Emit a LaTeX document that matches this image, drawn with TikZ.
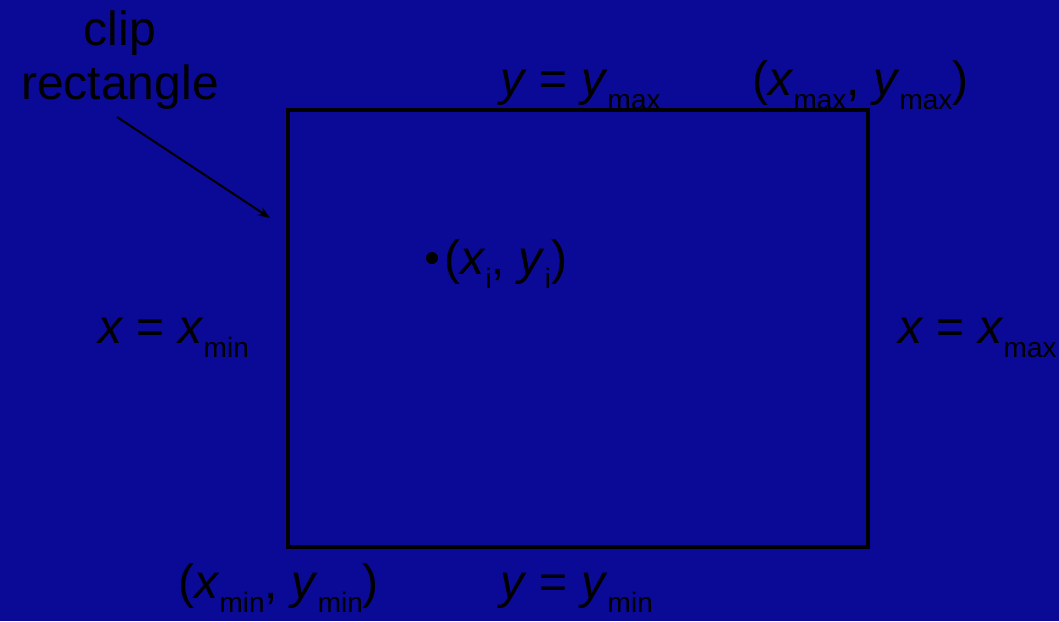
\documentclass[tikz,border=0pt]{standalone}
\usepackage{fontspec}
\setmainfont{Liberation Sans}
\usetikzlibrary{arrows.meta}
\definecolor{bgblue}{RGB}{10,10,150}
\tikzset{
  lbl/.style={text=black, inner sep=0pt, font=\fontsize{48}{54}\selectfont},
  edge/.style={draw=black, line width=4pt},
}
\newcommand{\vv}[1]{\textit{#1}}
\newcommand{\sbs}[1]{\raisebox{-0.3em}{\fontsize{28}{30}\selectfont #1}}
\begin{document}
\begin{tikzpicture}[x=1pt,y=-1pt]
\fill[bgblue] (0,0) rectangle (1059,621);
\useasboundingbox (0,0) rectangle (1059,621);
\node[edge, minimum width=580pt, minimum height=437pt, inner sep=0pt] (clip) at (578,328.5) {};
\node[lbl, align=center] (cliplbl) at (120,60) {clip\\rectangle};
\coordinate (tip) at (270,218);
\draw[black, line width=2pt, -{Stealth[length=12pt,width=9pt]}] (117,117) -- (tip);
\node[lbl, anchor=base west] (ymax) at (500,95) {\vv{y} = \vv{y}\sbs{max}};
\node[lbl, anchor=base west] (cmax) at (752,95) {(\vv{x}\sbs{max}, \vv{y}\sbs{max})};
\fill[black] (432,258) circle (6);
\node[lbl, anchor=base west] (pt) at (444,274) {(\vv{x}\sbs{i}, \vv{y}\sbs{i})};
\node[lbl, anchor=base west] (xmin) at (98,343) {\vv{x} = \vv{x}\sbs{min}};
\node[lbl, anchor=base west] (xmax) at (898,343) {\vv{x} = \vv{x}\sbs{max}};
\node[lbl, anchor=base west] (cmin) at (178,598) {(\vv{x}\sbs{min}, \vv{y}\sbs{min})};
\node[lbl, anchor=base west] (ymin) at (500,598) {\vv{y} = \vv{y}\sbs{min}};
\end{tikzpicture}
\end{document}
